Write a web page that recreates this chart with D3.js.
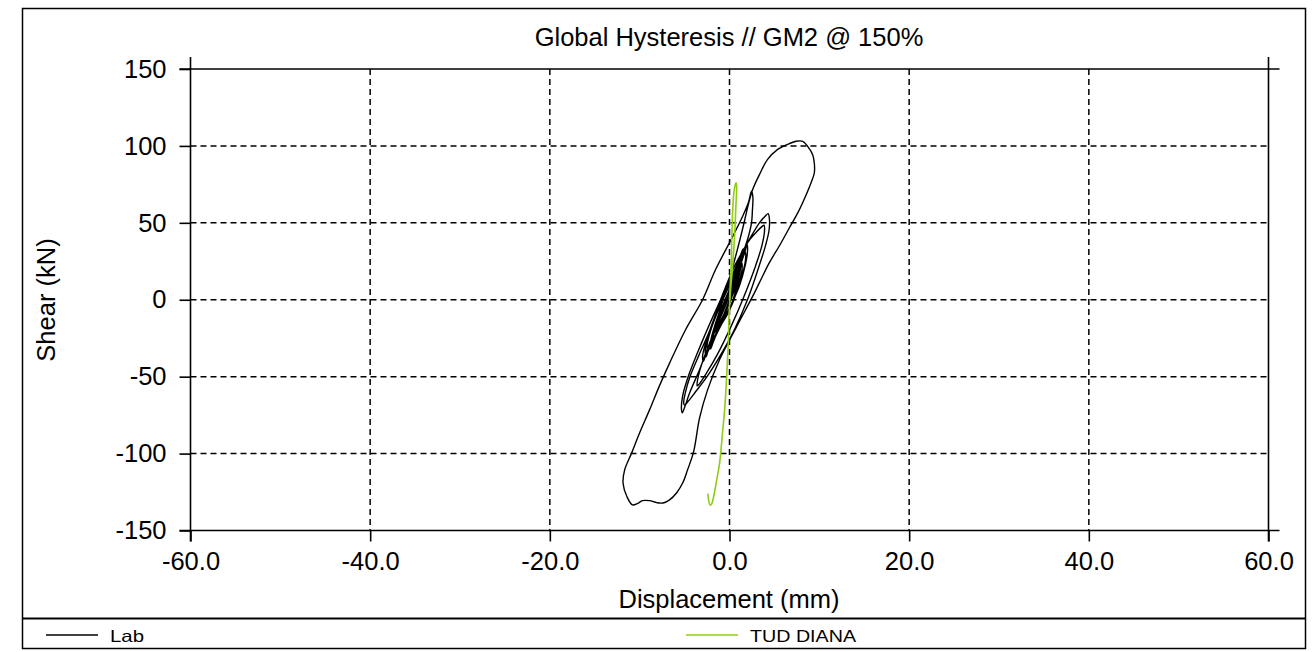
<!DOCTYPE html>
<html>
<head>
<meta charset="utf-8">
<script src="https://cdn.jsdelivr.net/npm/d3@7"></script>
<style>
  body { margin: 0; background: #fff; }
  svg { display: block; }
  text { font-family: "Liberation Sans", Arial, sans-serif; fill: #000; }
</style>
</head>
<body>
<svg id="chart" width="1316" height="652"></svg>
<script>
// Axis ticks and labels
const xTicks = [-60, -40, -20, 0, 20, 40, 60];
const xTickLabels = ["-60.0", "-40.0", "-20.0", "0.0", "20.0", "40.0", "60.0"];
const yTicks = [-150, -100, -50, 0, 50, 100, 150];
const yTickLabels = ["-150", "-100", "-50", "0", "50", "100", "150"];

const chartTitle = "Global Hysteresis // GM2 @ 150%";
const xTitle = "Displacement (mm)";
const yTitle = "Shear (kN)";
const seriesNames = ["Lab", "TUD DIANA"];

// Lab record: [displacement (mm), shear (kN)] in time order
const labCurve = [
  // first small cycles
  [0,0],[0.6,12],[1.0,19],[1.05,15],[0.7,6],[0.2,-3],[-0.4,-10],[-1.0,-16],[-1.3,-19],[-1.35,-16],[-1.0,-8],[-0.5,0],[0.1,8],[0.6,15],
  [1.1,21],[1.35,24],[1.4,20],[1.0,10],[0.5,0],[-0.2,-9],[-1.0,-17],[-1.5,-22],[-1.7,-24],[-1.8,-21],
  // first large excursion
  [-1.2,-9],[-0.5,4],[0.3,20],[1.2,40],[1.7,52],[2.1,62],[2.6,72],[3.33,81.3],[4.22,91.1],[5.33,97.6],[6.67,101.5],[7.41,103],
  [8.15,103],[8.7,99.7],[9.26,94.3],[9.44,88.9],[9.44,82.4],[9.07,75.9],[8.44,67],[7.67,57.3],[6.67,46.8],[5.56,35.1],[4.44,24.1],[3.33,11.1],[2.56,2],
  [0.78,-17.6],[-1.11,-39],[-2.44,-58.6],[-3.33,-76.8],[-4.0,-98.9],[-4.67,-110.6],[-5.2,-119],[-5.9,-125.6],[-6.67,-130.1],[-7.4,-132.1],
  [-8.1,-131.9],[-8.9,-130.6],[-9.7,-130.6],[-10.2,-132.3],[-10.8,-133.4],[-11.4,-128.2],[-11.85,-119.3],[-11.67,-110.6],[-10.9,-99.7],
  [-10.0,-86.5],[-8.9,-71.6],[-7.8,-56],[-6.67,-41.2],[-4.89,-19.5],[-3.0,0],[-1.56,19.5],[0,37.1],[1.44,54],[2.1,63],
  // cycle A
  [2.45,70.5],[2.6,67],[2.55,58],[2.45,50],[2.0,39],[1.1,24],[-0.3,0],[-2.0,-25],[-3.3,-45],[-4.4,-60],[-5.0,-70],[-5.25,-73.5],
  [-5.35,-71],[-5.2,-62],[-4.6,-50],[-3.6,-35],[-2.3,-17],[-1.0,0],[0.4,20],
  // cycle B
  [2.0,37],[3.33,50],[4.0,54.5],[4.3,56],[4.45,52],[4.4,45],[4.0,35],[3.3,22],[2.0,0],[0.5,-20],[-1.2,-38],[-2.5,-50],[-3.8,-60],[-4.6,-66],[-5.0,-68.5],
  [-5.1,-67],[-4.9,-60],[-4.4,-50],[-3.4,-36],[-2.2,-20],[-0.9,0],[0.6,20],[2.0,37],
  // cycle C
  [3.0,44],[3.7,48],[3.85,48.5],[3.9,45],[3.6,35],[2.9,22],[1.6,2],[0.2,-17],[-1.3,-35],[-2.6,-48],[-3.4,-55],[-3.6,-56],
  [-3.55,-52],[-3.1,-42],[-2.2,-28],[-1.0,-10],[0.4,10],[1.3,24],
  // decaying cycles
  [1.7,31],[1.95,36],[2.0,31],[1.7,21],[1.1,9],[0.2,-3],[-0.9,-16],[-2.0,-29],[-2.7,-37],[-2.9,-40],
  [-3.0,-37],[-2.6,-27],[-1.8,-14],[-0.9,-2],[0.1,11],[1.0,25],[1.5,33],
  [1.5,29],[1.0,19],[0.3,7],[-0.6,-6],[-1.6,-20],[-2.3,-31],[-2.6,-37],
  [-2.7,-33],[-2.3,-22],[-1.5,-9],[-0.6,4],[0.3,15],[1.1,25],[1.6,29],[1.75,31],
  [1.8,27],[1.5,18],[0.9,7],[0.2,-3],[-0.7,-13],[-1.6,-23],[-2.2,-30],[-2.4,-33],
  [-2.5,-30],[-2.1,-20],[-1.4,-9],[-0.6,2],[0.3,13],[0.9,22],[1.3,28],
  [1.35,25],[1.0,15],[0.4,4],[-0.4,-8],[-1.3,-20],[-1.9,-29],[-2.1,-32],
  [-2.15,-29],[-1.8,-20],[-1.1,-9],[-0.4,1],[0.4,13],[0.9,21],[1.1,24],
  [1.05,20],[0.6,10],[0.0,0],[-0.8,-12],[-1.5,-22],[-1.8,-27],
  [-1.85,-24],[-1.4,-15],[-0.8,-6],[-0.1,4],[0.5,13],[1.2,23],
  [1.2,19],[0.8,10],[0.2,1],[-0.5,-8],[-1.2,-16],[-1.6,-21],[-1.6,-17],[-1.1,-9],[-0.5,-1],[0.1,6],[0.3,8]
];

// TUD DIANA model response: [displacement (mm), shear (kN)]
const dianaCurve = [
  [0,0],[0.1,12],[0.2,25],[0.26,41],[0.37,60],[0.5,70],[0.65,75],[0.74,76],[0.8,73],[0.72,62],[0.56,41],[0.35,22],[0.1,5],
  [-0.05,-10],[-0.12,-26],[-0.25,-42],[-0.37,-56],[-0.55,-72],[-0.8,-88],[-1.1,-106],[-1.45,-118],[-1.8,-129],[-2.0,-133],[-2.15,-133.5],[-2.3,-131],[-2.42,-126]
];

const seriesColors = ["#000000", "#8fcc14"];

const svg = d3.select("#chart");
const FS = 25.5;

const x = d3.scaleLinear().domain([-60, 60]).range([190.5, 1268.5]);
const y = d3.scaleLinear().domain([-150, 150]).range([530.5, 69]);
const [x0, x1] = x.range();
const [y0, y1] = [y(150), y(-150)];
const ext = 11;

// outer border and legend separator
svg.append("rect").attr("x", 22.5).attr("y", 8.5).attr("width", 1283).attr("height", 640)
  .attr("fill", "none").attr("stroke", "#000").attr("stroke-width", 1.5);
svg.append("line").attr("x1", 22.5).attr("x2", 1305.5).attr("y1", 618.5).attr("y2", 618.5)
  .attr("stroke", "#000").attr("stroke-width", 2);

// dashed grid
const grid = svg.append("g");
grid.selectAll("line.gx").data(xTicks.slice(1, -1)).join("line")
  .attr("x1", d => x(d)).attr("x2", d => x(d)).attr("y1", y0).attr("y2", y1)
  .attr("stroke", "#000").attr("stroke-width", 1.5).attr("stroke-dasharray", "6,4");
grid.selectAll("line.gy").data(yTicks.slice(1, -1)).join("line")
  .attr("x1", x0).attr("x2", x1).attr("y1", d => y(d)).attr("y2", d => y(d))
  .attr("stroke", "#000").attr("stroke-width", 1.5).attr("stroke-dasharray", "6,4");

// frame with extended corners
const frame = svg.append("g").attr("stroke", "#000").attr("stroke-width", 1.6);
frame.append("line").attr("x1", x0 - ext).attr("x2", x1 + ext).attr("y1", y0).attr("y2", y0);
frame.append("line").attr("x1", x0 - ext).attr("x2", x1 + ext).attr("y1", y1).attr("y2", y1);
frame.append("line").attr("x1", x0).attr("x2", x0).attr("y1", y0 - ext - 1).attr("y2", y1 + ext);
frame.append("line").attr("x1", x1).attr("x2", x1).attr("y1", y0 - ext - 1).attr("y2", y1 + ext);

// axes (ticks outward, labels)
const xAxis = d3.axisBottom(x).tickValues(xTicks).tickSize(ext).tickPadding(10)
  .tickFormat((d, i) => xTickLabels[i]);
const gx = svg.append("g").attr("transform", `translate(0,${y1})`).call(xAxis);
const yAxis = d3.axisLeft(y).tickValues(yTicks).tickSize(ext).tickPadding(13)
  .tickFormat((d, i) => yTickLabels[i]);
const gy = svg.append("g").attr("transform", `translate(${x0},0)`).call(yAxis);
[gx, gy].forEach(g => {
  g.select(".domain").remove();
  g.selectAll(".tick line").attr("stroke", "#000").attr("stroke-width", 1.6);
  g.selectAll(".tick text").attr("font-size", FS).attr("font-family", "Liberation Sans, Arial, sans-serif").attr("fill", "#000");
});

// series
const line = d3.line().x(d => x(d[0])).y(d => y(d[1])).curve(d3.curveCatmullRom.alpha(0.5));
svg.append("path").datum(labCurve).attr("d", line)
  .attr("fill", "none").attr("stroke", seriesColors[0]).attr("stroke-width", 1.4).attr("stroke-linejoin", "round");
svg.append("path").datum(dianaCurve).attr("d", line)
  .attr("fill", "none").attr("stroke", seriesColors[1]).attr("stroke-width", 1.6).attr("stroke-linejoin", "round");

// titles
svg.append("text").attr("x", 729).attr("y", 46).attr("text-anchor", "middle")
  .attr("font-size", FS).text(chartTitle);
svg.append("text").attr("x", 729).attr("y", 608).attr("text-anchor", "middle")
  .attr("font-size", FS).text(xTitle);
svg.append("text").attr("transform", "translate(55,300) rotate(-90)").attr("text-anchor", "middle")
  .attr("font-size", FS).text(yTitle);

// legend
const legendItems = [
  { name: seriesNames[0], color: seriesColors[0], lx: 46, tx: 110, tw: 34 },
  { name: seriesNames[1], color: seriesColors[1], lx: 686, tx: 750, tw: 106 }
];
const lg = svg.append("g");
legendItems.forEach(it => {
  lg.append("line").attr("x1", it.lx).attr("x2", it.lx + 52).attr("y1", 635).attr("y2", 635)
    .attr("stroke", it.color).attr("stroke-width", 1.6);
  lg.append("text").attr("x", it.tx).attr("y", 642).attr("font-size", 16.5)
    .attr("textLength", it.tw).attr("lengthAdjust", "spacingAndGlyphs").text(it.name);
});
</script>
</body>
</html>
